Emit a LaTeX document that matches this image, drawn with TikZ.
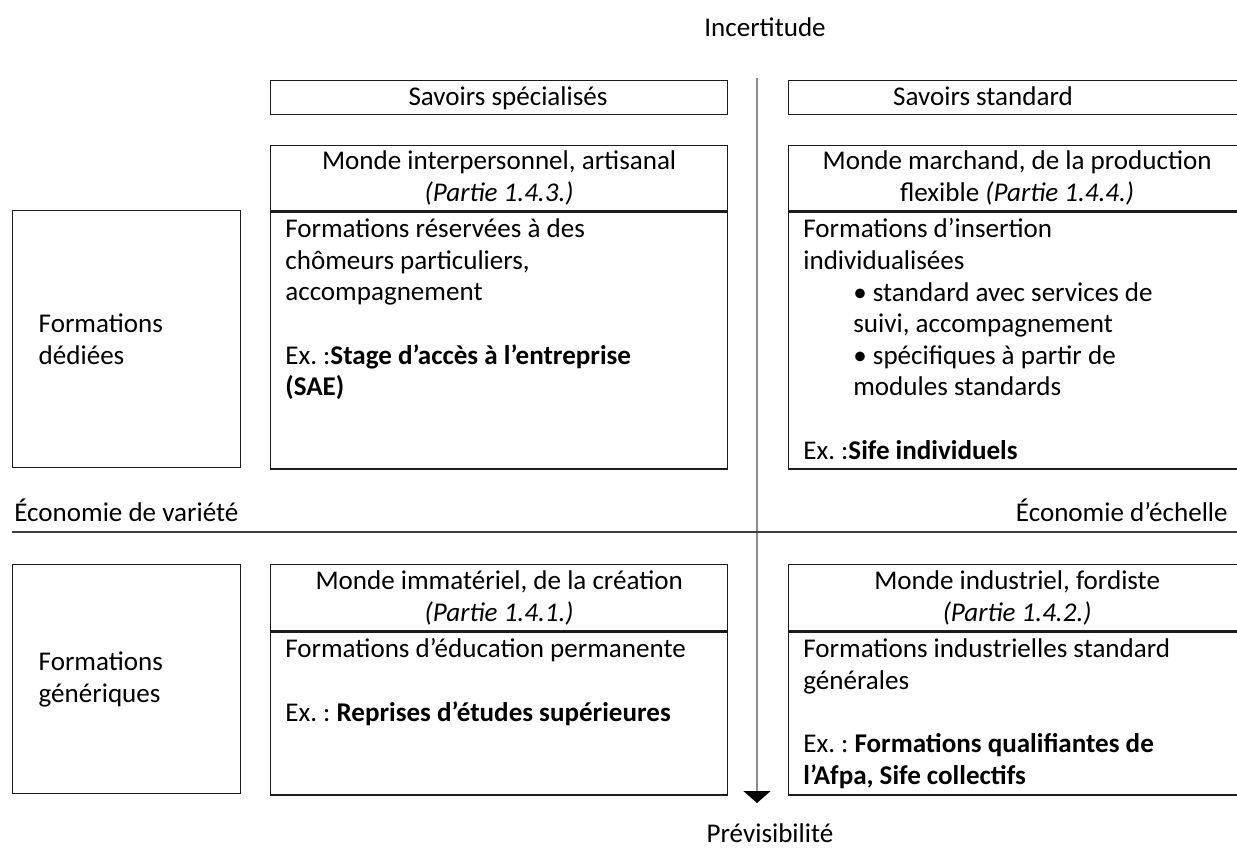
\documentclass[tikz,border=0pt]{standalone}
\usepackage{fontspec}
\setmainfont{Carlito}
\usetikzlibrary{positioning,arrows.meta}
\definecolor{ink}{HTML}{1c1c1c}
\definecolor{axisgray}{HTML}{8c8c8c}
\frenchspacing

\begin{document}
\begin{tikzpicture}[x=0.02cm,y=-0.02cm,font=\fontsize{15.4}{18}\selectfont,
  box/.style={draw=ink,line width=0.8pt,inner sep=0pt,anchor=north west},
  mid/.style={box,minimum width=9.14cm},
  side/.style={box,minimum width=4.56cm},
  body/.style={anchor=north west,inner sep=0pt,align=left},
  vaxe/.style={draw=axisgray,line width=1pt,-{Triangle[length=0.24cm,width=0.54cm,color=black]}},
  haxe/.style={draw=ink!85,line width=1.3pt,-{Triangle[length=0.24cm,width=0.54cm]}}]
  \useasboundingbox (0,0) rectangle (1237,848);

  \node[mid,minimum height=0.68cm] (sspe) at (270,80) {};
  \node[anchor=base,inner sep=0pt] (tspe) at (508,106) {Savoirs spécialisés};
  \node[mid,minimum height=0.68cm] (sstd) at (788,80) {};
  \node[anchor=base,inner sep=0pt] (tstd) at (983,106) {Savoirs standard};

  \node[mid,minimum height=1.3cm,align=center] (h1) at (270,145) {Monde interpersonnel, artisanal\\\textit{(Partie 1.4.3.)}};
  \node[mid,minimum height=5.14cm] (b1) at (h1.south west) {};
  \node[mid,minimum height=1.3cm,align=center] (h2) at (788,145) {Monde marchand, de la production\\flexible \textit{(Partie 1.4.4.)}};
  \node[mid,minimum height=5.14cm] (b2) at (h2.south west) {};
  \node[mid,minimum height=1.32cm,align=center] (h3) at (270,564) {Monde immatériel, de la création\\\textit{(Partie 1.4.1.)}};
  \node[mid,minimum height=3.26cm] (b3) at (h3.south west) {};
  \node[mid,minimum height=1.32cm,align=center] (h4) at (788,564) {Monde industriel, fordiste\\\textit{(Partie 1.4.2.)}};
  \node[mid,minimum height=3.26cm] (b4) at (h4.south west) {};

  \node[body] (t1) at ([shift={(15,7)}]b1.north west) {Formations réservées à des\\chômeurs particuliers,\\accompagnement\\[18pt]Ex. :\textbf{Stage d’accès à l’entreprise}\\\textbf{(SAE)}};
  \node[body] (t2) at ([shift={(15,7)}]b2.north west) {Formations d’insertion\\individualisées\\
    \hspace*{1cm}\textbullet{} standard avec services de\\\hspace*{1cm}suivi, accompagnement\\
    \hspace*{1cm}\textbullet{} spécifiques à partir de\\\hspace*{1cm}modules standards\\[18pt]
    Ex. :\textbf{Sife individuels}};
  \node[body] (t3) at ([shift={(15,7)}]b3.north west) {Formations d’éducation permanente\\[18pt]Ex. : \textbf{Reprises d’études supérieures}};
  \node[body] (t4) at ([shift={(15,7)}]b4.north west) {Formations industrielles standard\\générales\\[18pt]Ex. : \textbf{Formations qualifiantes de}\\\textbf{l’Afpa, Sife collectifs}};

  \node[side,minimum height=5.14cm] (ded) at (12,210) {};
  \node[anchor=west,align=left,inner sep=0pt] (tded) at ([xshift=15]ded.west) {Formations\\dédiées};
  \node[side,minimum height=4.58cm] (gen) at (12,564) {};
  \node[anchor=west,align=left,inner sep=0pt] (tgen) at ([xshift=15]gen.west) {Formations\\génériques};

  \coordinate (vtop) at (757,78);
  \coordinate (vbot) at (757,803);
  \draw[vaxe] (vtop) -- (vbot);
  \node[anchor=base,inner sep=0pt] (inc) at (765,37) {Incertitude};
  \node[anchor=base,inner sep=0pt] (prev) at (770,842) {Prévisibilité};

  \coordinate (hl) at (12,532);
  \coordinate (hr) at (1249,532);
  \draw[haxe] (hl) -- (hr);
  \node[anchor=base west,inner sep=0pt] (var) at (14,521) {Économie de variété};
  \node[anchor=base east,inner sep=0pt] (ech) at (1228,521) {Économie d’échelle};
\end{tikzpicture}
\end{document}
